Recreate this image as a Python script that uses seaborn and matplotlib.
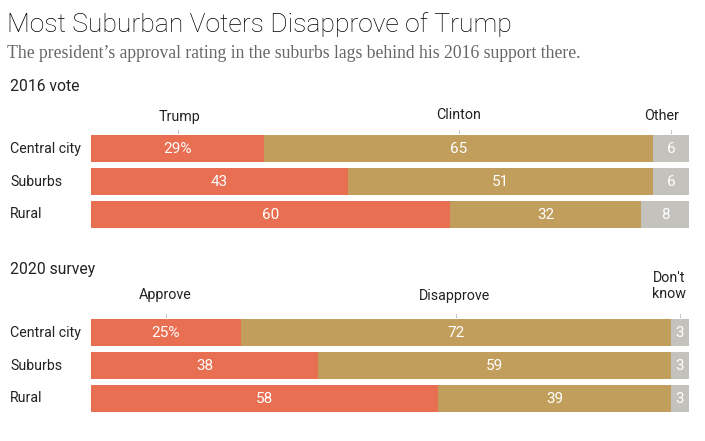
import matplotlib
matplotlib.use("Agg")
import matplotlib.pyplot as plt
import seaborn as sns

sns.set_theme(style="white")
plt.rcParams['font.family'] = ['Roboto', 'DejaVu Sans']

regions = ["Central city", "Suburbs", "Rural"]

heads_2016 = ["Trump", "Clinton", "Other"]
trump = [29, 43, 60]
clinton = [65, 51, 32]
other = [6, 6, 8]

heads_2020 = ["Approve", "Disapprove", "Don't\nknow"]
approve = [25, 38, 58]
disapprove = [72, 59, 39]
dont_know = [3, 3, 3]

colors = ["#E96F52", "#C29E5C", "#C4C2BC"]
W, H = 705, 441

fig = plt.figure(figsize=(W / 100, H / 100), dpi=100)


def px_axes(left, top, width, height):
    return fig.add_axes([left / W, 1 - (top + height) / H, width / W, height / H])


def panel(top, series, heads, label_y, head_shift):
    ax = px_axes(91, top, 598, 99)
    # widest first, shorter ones on top gives the stack
    totals = [[sum(s[i] for s in series[:k + 1]) for i in range(3)] for k in range(3)]
    for k in [2, 1, 0]:
        sns.barplot(x=totals[k], y=regions, color=colors[k], saturation=1, width=0.82,
                    ax=ax, orient="h", order=regions, linewidth=0, edgecolor="none")
    ax.set_xlim(0, 100)
    ax.set_ylim(2.5, -0.5)
    ax.set_xlabel("")
    ax.set_ylabel("")
    ax.set_xticks([])
    ax.tick_params(axis="y", length=0, pad=81 * 0.72)
    for lab in ax.get_yticklabels():
        lab.set_ha("left")
        lab.set_va("center")
        lab.set_fontsize(10.2)
        lab.set_color("#222222")
    sns.despine(ax=ax, left=True, bottom=True)

    for k in range(3):
        for i in range(3):
            start = totals[k][i] - series[k][i]
            mid = start + series[k][i] / 2
            txt = f"{series[k][i]}%" if (i == 0 and k == 0) else str(series[k][i])
            ax.text(mid, i + 0.01, txt, color="white", ha="center", va="center", fontsize=11)
        first_mid = totals[k][0] - series[k][0] / 2
        ax.annotate(heads[k], xy=(first_mid, 1), xycoords=("data", "axes fraction"),
                    xytext=(head_shift[k] * 0.72, (top - label_y[k]) * 0.72),
                    textcoords="offset points", ha="center", va="center",
                    fontsize=10.3, color="#222222", linespacing=1.2, annotation_clip=False)
        ax.plot([first_mid, first_mid], [-0.47, -0.56], color="#666666", lw=0.7,
                ls=(0, (1, 1.5)), clip_on=False)
    return ax


panel(132, [trump, clinton, other], heads_2016, [117.5, 115, 116.5], [2, 0, -9])
panel(316, [approve, disapprove, dont_know], heads_2020, [295, 296, 286], [-1, -1, -11])

fig.text(7 / W, 1 - 25 / H, "Most Suburban Voters Disapprove of Trump", fontsize=19.05,
         color="#000000", va="center", ha="left", fontweight="light")
fig.text(7 / W, 1 - 53 / H, "The president\u2019s approval rating in the suburbs lags behind his 2016 support there.",
         fontsize=12.68, color="#666666", va="center", ha="left", family="Liberation Serif")
fig.text(10 / W, 1 - 86.5 / H, "2016 vote", fontsize=11.3, color="#222222", va="center", ha="left")
fig.text(10 / W, 1 - 269.5 / H, "2020 survey", fontsize=11.3, color="#222222", va="center", ha="left")

fig.savefig("out.png", dpi=100, facecolor="white")
